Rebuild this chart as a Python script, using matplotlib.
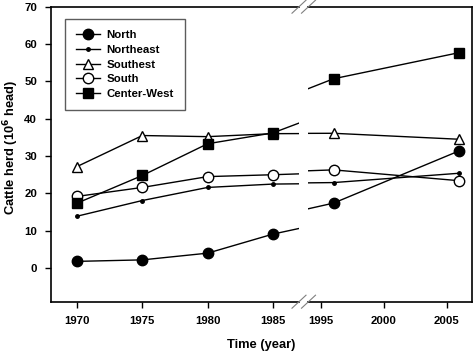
import matplotlib.pyplot as plt
import numpy as np

plt.rcParams['font.family'] = ['Liberation Sans', 'DejaVu Sans']
plt.rcParams['font.weight'] = 'bold'

# years before and after the axis break
years_a = [1970, 1975, 1980, 1985]
years_b = [1996, 2006]
years = years_a + years_b

north = [1.8, 2.2, 4.0, 9.1, 17.4, 31.4]
northeast = [13.9, 18.1, 21.6, 22.5, 22.9, 25.4]
southest = [27.2, 35.5, 35.2, 36.0, 36.1, 34.5]
south = [19.2, 21.6, 24.5, 25.0, 26.3, 23.4]
center_west = [17.4, 24.8, 33.3, 36.2, 50.7, 57.7]

series = [('North', north, dict(marker='o', ms=7.5, mfc='black')),
          ('Northeast', northeast, dict(marker='.', ms=5, mfc='black')),
          ('Southest', southest, dict(marker='^', ms=7, mfc='white')),
          ('South', south, dict(marker='o', ms=7.5, mfc='white')),
          ('Center-West', center_west, dict(marker='s', ms=6.5, mfc='black'))]

W, H = 473, 351
fig = plt.figure(figsize=(W / 100, H / 100), dpi=100)

top, bot = 6.7, 301.7
ax1 = fig.add_axes([51 / W, 1 - bot / H, 248 / W, (bot - top) / H])
ax2 = fig.add_axes([308 / W, 1 - bot / H, 164.3 / W, (bot - top) / H])

for ax in (ax1, ax2):
    for name, vals, st in series:
        ax.plot(years, vals, color='black', lw=1, mec='black', mew=1,
                label=name, clip_on=True, **st)
    ax.set_ylim(-9, 70)
    ax.tick_params(direction='out', length=4, width=1, labelsize=8.2, pad=6)
    for sp in ax.spines.values():
        sp.set_linewidth(1.2)

ax1.set_xlim(1968, 1987.0)
ax2.set_xlim(1993.97, 2007.04)
ax1.set_xticks(years_a)
ax2.set_xticks([1995, 2000, 2005])
ax1.set_yticks(np.arange(0, 71, 10))
ax1.spines['right'].set_visible(False)
ax2.spines['left'].set_visible(False)
ax2.tick_params(axis='y', left=False, labelleft=False)

# break marks
for xc in (299, 308.5):
    for yc in (top, bot):
        fig.add_artist(plt.Line2D([(xc - 7) / W, (xc + 7) / W],
                                  [1 - (yc + 6.5) / H, 1 - (yc - 6.5) / H],
                                  color='gray', lw=0.8))

leg = ax1.legend(loc='upper left', bbox_to_anchor=(14 / 248, 1 - 12.6 / 295),
                 fontsize=8.2, frameon=True, fancybox=False,
                 handlelength=2.1, handletextpad=0.6, labelspacing=0.42,
                 borderpad=0.95, borderaxespad=0)
leg.get_frame().set_edgecolor('#333333')
leg.get_frame().set_linewidth(1)

fig.text(261 / W, 1 - 345 / H, 'Time (year)', ha='center', va='center',
         fontsize=9.3, fontweight='bold')
fig.text(11 / W, 1 - 147.5 / H, 'Cattle herd (10$^{\\mathbf{6}}$ head)',
         rotation=90, ha='center', va='center', fontsize=9.3, fontweight='bold')

fig.savefig('out.png', dpi=100)
